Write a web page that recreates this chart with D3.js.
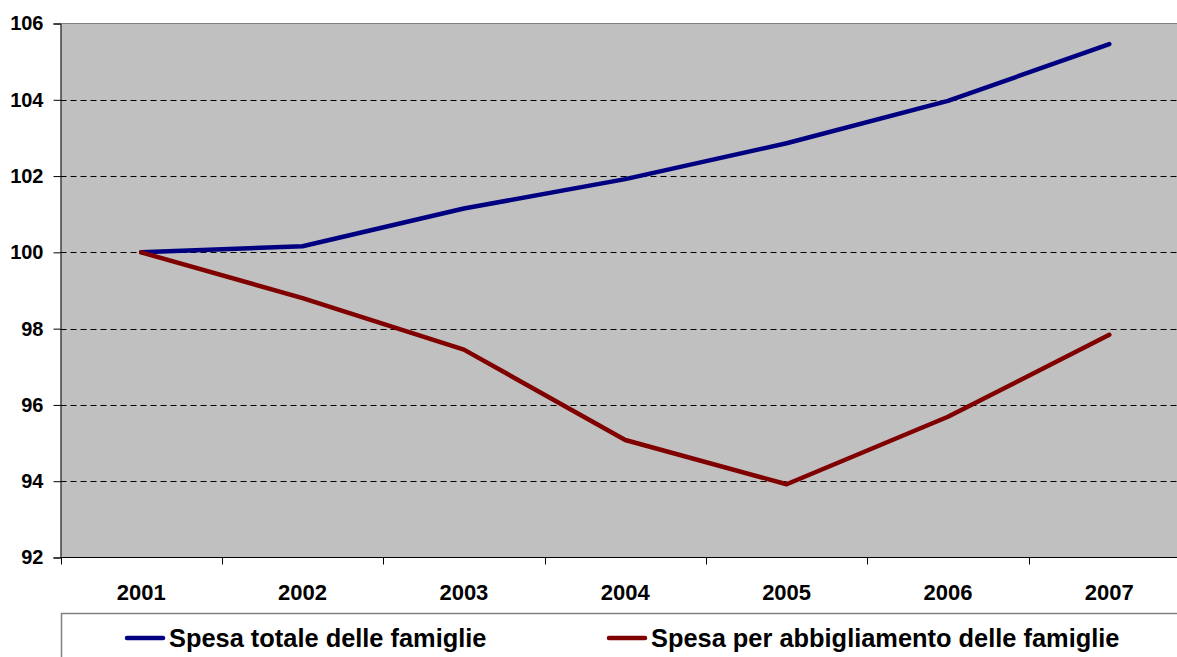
<!DOCTYPE html>
<html>
<head>
<meta charset="utf-8">
<script src="https://cdn.jsdelivr.net/npm/d3@7"></script>
<style>
  html, body { margin: 0; padding: 0; background: #fff; overflow: hidden; }
  svg { display: block; font-family: Arial, "Liberation Sans", sans-serif; font-weight: bold; }
</style>
</head>
<body>
<svg id="chart" width="1177" height="657"></svg>
<script>
// Years on the category axis
const years = ["2001", "2002", "2003", "2004", "2005", "2006", "2007"];
// Index numbers, 2001 = 100
const spesaTotale = [100, 100.16, 101.15, 101.92, 102.86, 103.97, 105.46];
const spesaAbbigliamento = [100, 98.8, 97.45, 95.08, 93.92, 95.69, 97.84];
// Value axis ticks
const yTicks = [92, 94, 96, 98, 100, 102, 104, 106];

const seriesNames = ["Spesa totale delle famiglie", "Spesa per abbigliamento delle famiglie"];
const seriesColors = ["#000080", "#800000"];

const svg = d3.select("#chart");
const plot = { left: 60.5, right: 1190, top: 23.5, bottom: 557.5 };

const x = d3.scaleBand().domain(years).range([plot.left, plot.right]).padding(0);
const y = d3.scaleLinear().domain([92, 106]).range([plot.bottom, plot.top]);

// Plot area background
svg.append("rect")
  .attr("x", plot.left).attr("y", plot.top)
  .attr("width", plot.right - plot.left).attr("height", plot.bottom - plot.top)
  .attr("fill", "#C0C0C0");

// Dashed horizontal gridlines
svg.append("g").selectAll("line")
  .data(yTicks.filter(d => d > 92 && d < 106))
  .join("line")
  .attr("x1", plot.left).attr("x2", plot.right)
  .attr("y1", d => Math.round(y(d)) + 0.5).attr("y2", d => Math.round(y(d)) + 0.5)
  .attr("stroke", "#000").attr("stroke-width", 1)
  .attr("stroke-dasharray", "6,4");

// Plot area top border
svg.append("line")
  .attr("x1", plot.left).attr("x2", plot.right)
  .attr("y1", plot.top).attr("y2", plot.top)
  .attr("stroke", "#808080").attr("stroke-width", 1);

// Value axis
const yAxis = d3.axisLeft(y).tickValues(yTicks).tickSize(7).tickPadding(10).tickFormat(d3.format("d"));
const yG = svg.append("g").attr("transform", `translate(${plot.left},0)`).call(yAxis);
yG.select(".domain").attr("stroke", "#000");
yG.selectAll(".tick line").attr("stroke", "#000");
yG.selectAll(".tick text")
  .attr("font-size", "20px").attr("font-weight", "bold")
  .attr("font-family", "Arial, 'Liberation Sans', sans-serif")
  .attr("fill", "#000");

// Category axis: ticks sit on category boundaries
const xG = svg.append("g").attr("transform", `translate(0,${plot.bottom})`);
xG.append("line")
  .attr("x1", plot.left).attr("x2", plot.right)
  .attr("y1", 0).attr("y2", 0)
  .attr("stroke", "#000");
xG.selectAll("line.tk")
  .data(years.concat(["end"]))
  .join("line")
  .attr("class", "tk")
  .attr("x1", (d, i) => Math.round(plot.left + i * x.bandwidth()) + 0.5)
  .attr("x2", (d, i) => Math.round(plot.left + i * x.bandwidth()) + 0.5)
  .attr("y1", 0).attr("y2", 7)
  .attr("stroke", "#000");
xG.selectAll("text")
  .data(years)
  .join("text")
  .attr("x", d => x(d) + x.bandwidth() / 2)
  .attr("y", 42.5)
  .attr("text-anchor", "middle")
  .attr("font-size", "22px")
  .attr("fill", "#000")
  .text(d => d);

// Series lines
const line = d3.line()
  .x((d, i) => x(years[i]) + x.bandwidth() / 2)
  .y(d => y(d));

[spesaTotale, spesaAbbigliamento].forEach((vals, k) => {
  svg.append("path")
    .datum(vals)
    .attr("d", line)
    .attr("fill", "none")
    .attr("stroke", seriesColors[k])
    .attr("stroke-width", 4.5)
    .attr("stroke-linejoin", "round")
    .attr("stroke-linecap", "round");
});

// Legend
const legend = svg.append("g");
legend.append("rect")
  .attr("x", 61.5).attr("y", 613.5)
  .attr("width", 1200).attr("height", 100)
  .attr("fill", "#fff").attr("stroke", "#808080").attr("stroke-width", 1.5);

const legendX = [127, 609];
seriesNames.forEach((name, k) => {
  const g = legend.append("g").attr("transform", `translate(${legendX[k]},638)`);
  g.append("line")
    .attr("x1", 0).attr("x2", 36).attr("y1", 0).attr("y2", 0)
    .attr("stroke", seriesColors[k]).attr("stroke-width", 4.5)
    .attr("stroke-linecap", "round");
  g.append("text")
    .attr("x", 42).attr("y", 9)
    .attr("font-size", "25.4px")
    .attr("fill", "#000")
    .text(name);
});
</script>
</body>
</html>
